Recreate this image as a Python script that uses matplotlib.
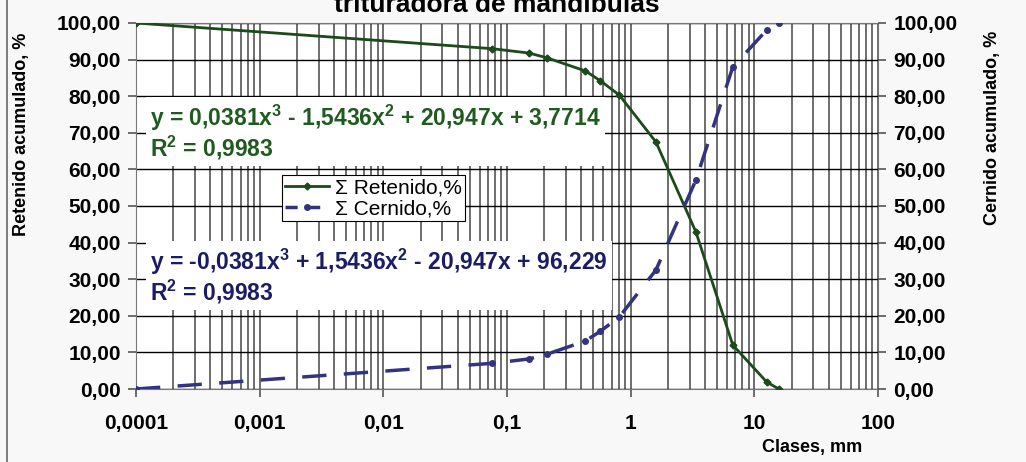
import matplotlib.pyplot as plt
import matplotlib.ticker as ticker
from matplotlib.lines import Line2D
import numpy as np

# Tamices (mm) y porcentajes acumulados
clases_mm = [0.0001, 0.075, 0.15, 0.21, 0.43, 0.57, 0.81, 1.6, 3.37, 6.7, 12.6, 15.8]
retenido = [100.0, 93.0, 91.8, 90.5, 86.9, 84.2, 80.3, 67.5, 42.9, 12.0, 1.9, 0.0]
cernido = [100 - r for r in retenido]

eq_retenido = "y = 0,0381x$^\\mathbf{3}$ - 1,5436x$^\\mathbf{2}$ + 20,947x + 3,7714\nR$^\\mathbf{2}$ = 0,9983"
eq_cernido = "y = -0,0381x$^\\mathbf{3}$ + 1,5436x$^\\mathbf{2}$ - 20,947x + 96,229\nR$^\\mathbf{2}$ = 0,9983"

green = '#1b4a1b'
blue = '#33337f'

plt.rcParams['font.family'] = ['Liberation Sans', 'DejaVu Sans']
plt.rcParams['mathtext.fontset'] = 'custom'
plt.rcParams['mathtext.bf'] = 'Liberation Sans:bold'
plt.rcParams['mathtext.rm'] = 'Liberation Sans:bold'

fig = plt.figure(figsize=(10.26, 4.62), dpi=100, facecolor='#f8f8f8')
ax = fig.add_axes([136 / 1026, 1 - 389 / 462, (878 - 136) / 1026, (389 - 23) / 462])
ax.set_facecolor('white')
ax.set_xscale('log')
ax.set_xlim(0.0001, 100)
ax.set_ylim(0, 100)

# grid: vertical major + minor, horizontal black
ax.xaxis.set_major_locator(ticker.LogLocator(base=10, numticks=10))
ax.xaxis.set_minor_locator(ticker.LogLocator(base=10, subs=np.arange(2, 10), numticks=20))
ax.yaxis.set_major_locator(ticker.MultipleLocator(10))
ax.grid(which='major', axis='x', color='#555555', linewidth=1.2)
ax.grid(which='minor', axis='x', color='#555555', linewidth=1.2)
ax.grid(which='major', axis='y', color='black', linewidth=1.0)
ax.set_axisbelow(True)
for s in ax.spines.values():
    s.set_color('#777777')

ax.plot(clases_mm, retenido, color=green, linewidth=2, marker='D', markersize=3.5, zorder=4)
ax.plot(clases_mm, cernido, color=blue, linewidth=2.5, dashes=(7, 5), marker='o', markersize=4, zorder=4)

fmt_y = ticker.FuncFormatter(lambda v, p: f"{v:.2f}".replace('.', ','))
ax.yaxis.set_major_formatter(fmt_y)
ax.xaxis.set_major_formatter(ticker.FuncFormatter(lambda v, p: f"{v:g}".replace('.', ',') if v >= 1 else f"{v:.{int(round(-np.log10(v)))}f}".replace('.', ',')))
ax.xaxis.set_minor_formatter(ticker.NullFormatter())
ax.tick_params(axis='both', which='major', labelsize=15, length=6, color='#555555', width=1.2)
ax.tick_params(axis='x', which='minor', length=0)
ax.tick_params(axis='x', pad=12)
ax.tick_params(axis='y', pad=5)
for lbl in ax.get_xticklabels() + ax.get_yticklabels():
    lbl.set_fontweight('bold')

ax2 = ax.twinx()
ax2.set_ylim(0, 100)
ax2.yaxis.set_major_locator(ticker.MultipleLocator(10))
ax2.yaxis.set_major_formatter(fmt_y)
ax2.tick_params(axis='y', labelsize=15, length=6, color='#555555', width=1.2, pad=5)
for lbl in ax2.get_yticklabels():
    lbl.set_fontweight('bold')
for s in ax2.spines.values():
    s.set_visible(False)

# axis titles placed like the original (not centred on the axes)
fig.text(22 / 1026, 1 - 134 / 462, 'Retenido acumulado, %', fontsize=13, fontweight='bold',
         rotation=90, ha='center', va='center')
fig.text(992 / 1026, 1 - 128 / 462, 'Cernido acumulado, %', fontsize=13, fontweight='bold',
         rotation=90, ha='center', va='center')
fig.text(812 / 1026, 1 - 452 / 462, 'Clases, mm', fontsize=13, fontweight='bold', ha='center', va='baseline')

# equation labels with white background
ax.text(0.00013, 70.2, eq_retenido, fontsize=16.5, fontweight='bold', color='#1f5a1f',
        va='center', ha='left', linespacing=1.05, zorder=3,
        bbox=dict(facecolor='white', edgecolor='none', pad=3))
ax.text(0.00013, 30.8, eq_cernido, fontsize=16.5, fontweight='bold', color='#1c1c66',
        va='center', ha='left', linespacing=1.05, zorder=3,
        bbox=dict(facecolor='white', edgecolor='none', pad=3))

handles = [Line2D([], [], color=green, linewidth=2, marker='D', markersize=3.5),
           Line2D([], [], color=blue, linewidth=2.5, dashes=(3.5, 3), marker='o', markersize=4)]
leg = ax.legend(handles, ['Σ Retenido,%', 'Σ Cernido,%'], loc='upper left',
                bbox_to_anchor=((282 - 136) / 742, 1 - (175 - 23) / 366),
                fontsize=15, frameon=True, fancybox=False, edgecolor='black',
                framealpha=1, borderpad=0.15, handlelength=2.1, handletextpad=0.3,
                labelspacing=0.1, borderaxespad=0)
leg.get_frame().set_linewidth(0.8)
leg.set_zorder(5)

fig.text(497 / 1026, 1 - 12 / 462, 'trituradora de mandíbulas', fontsize=19, fontweight='bold',
         ha='center', va='baseline')
fig.add_artist(Line2D([7 / 1026, 7 / 1026], [0, 1], color='#666666', linewidth=1.2))

fig.savefig('out.png', dpi=100, facecolor=fig.get_facecolor())
